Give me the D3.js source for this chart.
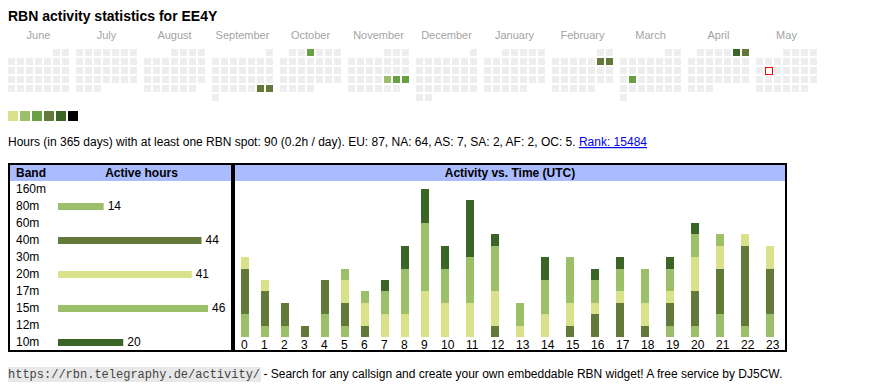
<!DOCTYPE html>
<html>
<head>
<meta charset="utf-8">
<script src="https://cdn.jsdelivr.net/npm/d3@7"></script>
<style>
  html, body { margin: 0; padding: 0; background: #fff; }
  svg { display: block; }
  text { font-family: "Liberation Sans", Arial, sans-serif; }
</style>
</head>
<body>
<svg id="chart" width="870" height="390"></svg>
<script>
// ---------------- DATA ----------------
const title = "RBN activity statistics for EE4Y";
const monthNames = ["June", "July", "August", "September", "October", "November",
                    "December", "January", "February", "March", "April", "May"];
const calendarStart = "2024-06-01";
const todayDate = "2025-05-13";
const activeDays = ["2024-09-28", "2024-09-29", "2024-10-03", "2024-11-22", "2024-11-23",
                    "2024-11-24", "2025-02-08", "2025-02-09", "2025-03-18", "2025-04-05", "2025-04-06"];
const activeDayHours = [6, 6, 4, 2, 4, 4, 6, 6, 3, 10, 6];
const levelThresholds = [2, 3, 5, 9, 17];

const summaryText = "Hours (in 365 days) with at least one RBN spot: 90 (0.2h / day). EU: 87, NA: 64, AS: 7, SA: 2, AF: 2, OC: 5. ";
const rankText = "Rank: 15484";

const bands = ["160m", "80m", "60m", "40m", "30m", "20m", "17m", "15m", "12m", "10m"];
const bandHours = [0, 14, 0, 44, 0, 41, 0, 46, 0, 20];

const hourLabels = ["0","1","2","3","4","5","6","7","8","9","10","11","12","13","14","15","16","17","18","19","20","21","22","23"];
const stackBands = ["80m", "40m", "20m", "15m", "10m"];
const hours80m = [2,1,1,0,2,1,0,0,0,0,0,0,0,0,0,0,0,0,0,1,1,2,1,2];
const hours40m = [4,3,2,1,3,2,1,0,0,0,0,0,1,0,0,1,2,3,1,2,3,4,7,4];
const hours20m = [1,1,0,0,0,2,2,2,2,4,3,3,3,1,2,2,1,1,2,1,3,2,1,2];
const hours15m = [0,0,0,0,0,1,1,2,4,6,3,4,4,2,3,4,2,2,3,2,2,1,0,0];
const hours10m = [0,0,0,0,0,0,0,1,2,3,2,5,1,0,2,0,1,1,0,1,1,0,0,0];

const footerUrl = "https://rbn.telegraphy.de/activity/";
const footerText = " - Search for any callsign and create your own embeddable RBN widget! A free service by DJ5CW.";

// ---------------- STYLE ----------------
const levelColors = ["#d9e18b", "#9cc069", "#69a044", "#637939", "#3a6527", "#000000"];
const bandColors = {"160m": "#d9e18b", "80m": "#9cc069", "60m": "#69a044", "40m": "#637939",
                    "30m": "#69a044", "20m": "#d9e18b", "17m": "#69a044", "15m": "#9cc069",
                    "12m": "#69a044", "10m": "#3a6527"};
const headerBlue = "#aabbff";
const emptyGray = "#eeeeee";

const svg = d3.select("#chart");

// Title
svg.append("text").attr("x", 8).attr("y", 21)
  .style("font-weight", "bold").style("font-size", "14px").text(title);

// ---------------- CALENDAR ----------------
const parse = d3.timeParse("%Y-%m-%d");
const fmt = d3.timeFormat("%Y-%m-%d");
const start = parse(calendarStart);
const monthX = d3.scaleLinear().domain([0, 12]).range([8, 8 + 68 * 12]);
const colX = d3.scaleLinear().domain([0, 7]).range([0, 63]);
const rowY = d3.scaleLinear().domain([0, 6]).range([49, 49 + 54]);
const hoursByDay = new Map(activeDays.map((d, i) => [d, activeDayHours[i]]));
const levelScale = d3.scaleThreshold().domain(levelThresholds).range(levelColors);
const todayCells = [];

monthNames.forEach((name, m) => {
  const first = d3.timeMonth.offset(start, m);
  const next = d3.timeMonth.offset(first, 1);
  const days = d3.timeDay.range(first, next);
  const offset = (first.getDay() + 6) % 7;
  const bx = monthX(m);
  svg.append("text").attr("x", bx + 30.5).attr("y", 39)
    .attr("text-anchor", "middle").style("font-size", "11px").style("fill", "#a3a3a3")
    .text(name);
  const cells = days.map((d, i) => ({
    key: fmt(d),
    x: bx + colX((offset + i) % 7),
    y: rowY(Math.floor((offset + i) / 7))
  }));
  cells.forEach(c => { if (c.key === todayDate) todayCells.push(c); });
  svg.append("g").selectAll("rect").data(cells.filter(c => c.key !== todayDate)).join("rect")
    .attr("x", c => c.x).attr("y", c => c.y)
    .attr("width", 7).attr("height", 7)
    .attr("fill", c => hoursByDay.has(c.key) ? levelScale(hoursByDay.get(c.key)) : emptyGray);
});
// today marker: red frame
const todayG = svg.append("g").attr("shape-rendering", "crispEdges");
todayCells.forEach(c => {
  todayG.append("rect").attr("x", c.x).attr("y", c.y).attr("width", 8).attr("height", 8).attr("fill", "#ff0000");
  todayG.append("rect").attr("x", c.x + 1).attr("y", c.y + 1).attr("width", 6).attr("height", 6).attr("fill", "#ffffff");
});

// Legend
svg.append("g").selectAll("rect").data(levelColors).join("rect")
  .attr("x", (d, i) => 8 + i * 12).attr("y", 111).attr("width", 10).attr("height", 10)
  .attr("fill", d => d);

// Summary line
const sum = svg.append("text").attr("x", 8).attr("y", 146).style("font-size", "12px");
sum.append("tspan").text(summaryText);
sum.append("tspan").style("fill", "#0000ee").style("text-decoration", "underline").text(rankText);

// ---------------- BAND TABLE ----------------
svg.append("rect").attr("x", 10).attr("y", 165).attr("width", 221).attr("height", 16).attr("fill", headerBlue);
svg.append("rect").attr("x", 9).attr("y", 164).attr("width", 223).attr("height", 187)
  .attr("fill", "none").attr("stroke", "#000").attr("stroke-width", 2);
svg.append("text").attr("x", 16).attr("y", 177).style("font-size", "12px").style("font-weight", "bold").text("Band");
svg.append("text").attr("x", 141.5).attr("y", 177).attr("text-anchor", "middle")
  .style("font-size", "12px").style("font-weight", "bold").text("Active hours");

const rowScale = d3.scalePoint().domain(bands).range([193, 346]);
const barScale = d3.scaleLinear().domain([0, 46]).range([0, 150]);
const bt = svg.append("g");
bands.forEach((b, i) => {
  const yb = rowScale(b);
  bt.append("text").attr("x", 16).attr("y", yb).style("font-size", "12px").text(b);
  if (bandHours[i] > 0) {
    bt.append("rect").attr("x", 58).attr("y", yb - 7).attr("width", barScale(bandHours[i])).attr("height", 7)
      .attr("fill", bandColors[b]);
    bt.append("text").attr("x", 58 + barScale(bandHours[i]) + 4).attr("y", yb)
      .style("font-size", "12px").text(bandHours[i]);
  }
});

// ---------------- ACTIVITY VS TIME ----------------
svg.append("rect").attr("x", 235).attr("y", 165).attr("width", 550).attr("height", 16).attr("fill", headerBlue);
svg.append("rect").attr("x", 234).attr("y", 164).attr("width", 552).attr("height", 187)
  .attr("fill", "none").attr("stroke", "#000").attr("stroke-width", 2);
svg.append("text").attr("x", 510).attr("y", 177).attr("text-anchor", "middle")
  .style("font-size", "12px").style("font-weight", "bold").text("Activity vs. Time (UTC)");

// column positions follow label widths (one-digit 20px, two-digit 25px)
const colStarts = [];
hourLabels.reduce((acc, l) => { colStarts.push(acc); return acc + (l.length > 1 ? 25 : 20); }, 241);
const xHour = d3.scaleOrdinal().domain(hourLabels).range(colStarts);
const yAct = d3.scaleLinear().domain([0, 13]).range([337, 188.8]);

const series = {"80m": hours80m, "40m": hours40m, "20m": hours20m, "15m": hours15m, "10m": hours10m};
const table = hourLabels.map((h, i) => {
  const o = {hour: h};
  stackBands.forEach(b => { o[b] = series[b][i]; });
  return o;
});
const stacked = d3.stack().keys(stackBands)(table);
const bars = svg.append("g");
stacked.forEach(layer => {
  bars.selectAll(null).data(layer.filter(d => d[1] > d[0])).join("rect")
    .attr("x", d => xHour(d.data.hour))
    .attr("width", 8)
    .attr("y", d => Math.round(yAct(d[1])))
    .attr("height", d => Math.round(yAct(d[0])) - Math.round(yAct(d[1])))
    .attr("fill", bandColors[layer.key]);
});
svg.append("g").selectAll("text").data(hourLabels).join("text")
  .attr("x", d => xHour(d)).attr("y", 349).style("font-size", "12px").text(d => d);

// ---------------- FOOTER ----------------
const foot = svg.append("g");
const bg = foot.append("rect").attr("fill", "#e8e8e8");
const ft = foot.append("text").attr("x", 8).attr("y", 378);
const urlSpan = ft.append("tspan").style("font-family", "'Liberation Mono', 'Courier New', monospace")
  .style("font-size", "12px").style("fill", "#444").text(footerUrl);
ft.append("tspan").style("font-size", "12px").text(footerText);
const ulen = urlSpan.node().getComputedTextLength();
bg.attr("x", 8).attr("y", 367).attr("width", ulen + 1).attr("height", 15);
</script>
</body>
</html>
